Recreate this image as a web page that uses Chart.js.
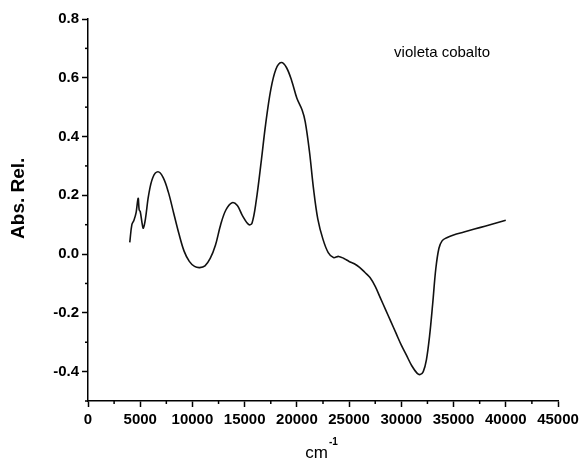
<!DOCTYPE html>
<html>
<head>
<meta charset="utf-8">
<script src="https://cdn.jsdelivr.net/npm/chart.js@4"></script>
<style>
  html,body{margin:0;padding:0;background:#fff;}
  #wrap{width:583px;height:460px;}
</style>
</head>
<body>
<div id="wrap"><canvas id="chart"></canvas></div>
<script>
/* data */
const waveNumbers = [4000,4200,4400,4600,4800,4900,5000,5200,5300,5500,5800,6200,6700,7200,7700,8200,8700,9200,9700,10200,10700,11200,11700,12200,12700,13200,13800,14300,14800,15400,15700,16100,16600,17000,17500,18000,18500,19000,19500,20000,20500,20800,21200,21600,22000,22500,23000,23500,24000,24500,25000,25500,26000,26500,27000,27500,28000,28500,29000,29500,30000,30500,31000,31500,31800,32100,32400,32700,33000,33300,33600,33900,34300,35000,36000,37000,38000,39000,40000];
const absRel = [0.04,0.10,0.115,0.14,0.19,0.15,0.145,0.10,0.088,0.12,0.20,0.26,0.28,0.26,0.21,0.14,0.07,0.01,-0.025,-0.042,-0.046,-0.04,-0.015,0.03,0.10,0.15,0.175,0.165,0.13,0.10,0.105,0.18,0.32,0.44,0.56,0.63,0.652,0.635,0.59,0.53,0.49,0.45,0.35,0.22,0.12,0.05,0.005,-0.012,-0.008,-0.015,-0.025,-0.033,-0.045,-0.062,-0.08,-0.11,-0.15,-0.19,-0.23,-0.27,-0.31,-0.345,-0.38,-0.405,-0.41,-0.40,-0.36,-0.28,-0.17,-0.05,0.02,0.045,0.055,0.065,0.075,0.085,0.095,0.105,0.115];

const xMin = 0, xMax = 45000, xMajor = 5000, xMinor = 2500;
const yMin = -0.5, yMax = 0.8, yMajor = 0.2, yMinor = 0.1;
const seriesLabel = "violeta cobalto";
const xTitle = "cm", xTitleSup = "-1";
const yTitle = "Abs. Rel.";

const points = waveNumbers.map((x,i)=>({x:x, y:absRel[i]}));
const FONT = "'Liberation Sans', Arial, sans-serif";

/* minor ticks, axis titles, label inside plot */
const extras = {
  id:"extras",
  afterDraw(chart){
    const ctx = chart.ctx;
    const xs = chart.scales.x, ys = chart.scales.y;
    ctx.save();
    ctx.strokeStyle = "#000";
    ctx.lineWidth = 1.5;
    xs.ticks.forEach(t=>{
      if(Math.round(t.value/xMinor) % 2 === 1){
        const px = xs.getPixelForValue(t.value);
        ctx.beginPath();
        ctx.moveTo(px, xs.top);
        ctx.lineTo(px, xs.top+3);
        ctx.stroke();
      }
    });
    ys.ticks.forEach(t=>{
      if(Math.round(t.value/yMinor) % 2 !== 0){
        const py = ys.getPixelForValue(t.value);
        ctx.beginPath();
        ctx.moveTo(ys.right, py);
        ctx.lineTo(ys.right-3, py);
        ctx.stroke();
      }
    });
    ctx.fillStyle = "#000";
    ctx.textBaseline = "alphabetic";
    // x title
    ctx.font = "17px " + FONT;
    const w1 = ctx.measureText(xTitle).width;
    ctx.font = "bold 10px " + FONT;
    const w2 = ctx.measureText(xTitleSup).width;
    const cx = (xs.left + xs.right)/2 - 2;
    const x0 = cx - (w1+w2)/2;
    ctx.font = "17px " + FONT;
    ctx.textAlign = "left";
    ctx.fillText(xTitle, x0, 458);
    ctx.font = "bold 10px " + FONT;
    ctx.fillText(xTitleSup, x0 + w1 + 1, 445);
    // y title
    ctx.save();
    ctx.translate(19, ys.getPixelForValue(0.19));
    ctx.rotate(-Math.PI/2);
    ctx.font = "bold 19px " + FONT;
    ctx.textAlign = "center";
    ctx.textBaseline = "middle";
    ctx.fillText(yTitle, 0, 0);
    ctx.restore();
    // series label
    ctx.font = "15px " + FONT;
    ctx.textAlign = "center";
    ctx.textBaseline = "middle";
    ctx.fillText(seriesLabel, xs.getPixelForValue(33900), ys.getPixelForValue(0.685));
    ctx.restore();
  }
};

new Chart(document.getElementById("chart"),{
  type:"scatter",
  data:{datasets:[{
    label:seriesLabel,
    data:points,
    showLine:true,
    borderColor:"#111",
    borderWidth:1.6,
    pointRadius:0,
    tension:0.35,
    fill:false
  }]},
  options:{
    responsive:true,
    maintainAspectRatio:false,
    animation:false,
    layout:{padding:{top:19,right:25,left:0,bottom:0}},
    plugins:{legend:{display:false},tooltip:{enabled:false}},
    scales:{
      x:{
        type:"linear", min:xMin, max:xMax,
        afterFit(s){ s.height = 59; },
        ticks:{
          stepSize:xMinor, autoSkip:false, maxRotation:0,
          color:"#000", font:{family:FONT, size:15, weight:"bold"}, padding:4,
          callback:v=> Math.round(v/xMinor)%2===0 ? String(v) : ""
        },
        grid:{drawOnChartArea:false, drawTicks:true, tickLength:6,
              tickColor:c=> Math.round(c.tick.value/xMinor)%2===0 ? "#000" : "rgba(0,0,0,0)",
              tickWidth:1.5},
        border:{display:true, color:"#000", width:1.5}
      },
      y:{
        type:"linear", min:yMin, max:yMax,
        afterFit(s){ s.width = 88; },
        ticks:{
          stepSize:yMinor, autoSkip:false,
          color:"#000", font:{family:FONT, size:15, weight:"bold"}, padding:3,
          callback:v=> Math.round(v/yMinor)%2===0 ? v.toFixed(1) : ""
        },
        grid:{drawOnChartArea:false, drawTicks:true, tickLength:6,
              tickColor:c=> Math.round(c.tick.value/yMinor)%2===0 ? "#000" : "rgba(0,0,0,0)",
              tickWidth:1.5},
        border:{display:true, color:"#000", width:1.5}
      }
    }
  },
  plugins:[extras]
});
</script>
</body>
</html>
